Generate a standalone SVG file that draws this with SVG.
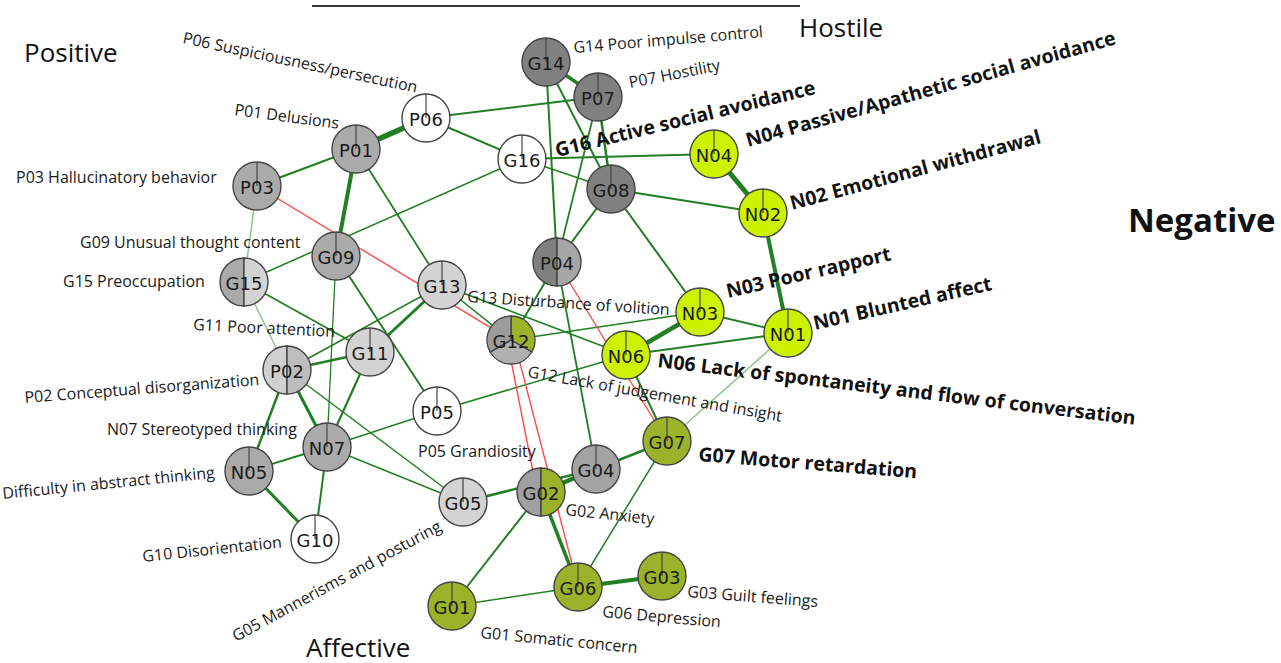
<svg xmlns="http://www.w3.org/2000/svg" width="1281" height="663" viewBox="0 0 1281 663">
<style>
.e{stroke:#237f23;fill:none;stroke-linecap:round}
.lt{stroke:#8fc98f}
.r{stroke:#ff4a4a;stroke-width:1.4}
.node circle,.node path{stroke:#444;stroke-width:1.4}
.tick{stroke:#444;stroke-width:1.2}
.nt{font-family:"DejaVu Sans",sans-serif;font-size:18px;fill:#1a1a1a;text-anchor:middle;dominant-baseline:central}
.lb{font-family:"Open Sans",sans-serif;font-size:16px;fill:#1a1a1a}
.bl{font-family:"Open Sans",sans-serif;font-size:19.5px;font-weight:bold;fill:#111}
.gr{font-family:"Open Sans",sans-serif;font-size:26px;fill:#111}
.dk{fill:#808080}.md{fill:#aaaaaa}.lg{fill:#d3d3d3}.wh{fill:#ffffff}.yg{fill:#ccf200}.ol{fill:#9bb22b}
</style>
<line x1="312" y1="6" x2="800" y2="6" stroke="#333" stroke-width="2"/>
<g id="connectors">
<line class="e" x1="356" y1="149" x2="426" y2="118" stroke-width="5.5"/>
<line class="e" x1="356" y1="149" x2="257" y2="186" stroke-width="2"/>
<line class="e" x1="356" y1="149" x2="336" y2="256" stroke-width="4"/>
<line class="e" x1="356" y1="149" x2="442" y2="285" stroke-width="1.8"/>
<line class="e lt" x1="257" y1="186" x2="244" y2="282" stroke-width="1.6"/>
<line class="e" x1="426" y1="118" x2="598" y2="97" stroke-width="2"/>
<line class="e" x1="426" y1="118" x2="522" y2="159" stroke-width="2"/>
<line class="e" x1="522" y1="159" x2="714" y2="154" stroke-width="2"/>
<line class="e" x1="522" y1="159" x2="611" y2="189" stroke-width="1.5"/>
<line class="e" x1="522" y1="159" x2="244" y2="282" stroke-width="1.5"/>
<line class="e" x1="546" y1="62" x2="598" y2="97" stroke-width="3.5"/>
<line class="e" x1="546" y1="62" x2="557" y2="262" stroke-width="2"/>
<line class="e" x1="546" y1="62" x2="611" y2="189" stroke-width="2"/>
<line class="e" x1="598" y1="97" x2="611" y2="189" stroke-width="2.5"/>
<line class="e" x1="598" y1="97" x2="557" y2="262" stroke-width="1.8"/>
<line class="e" x1="611" y1="189" x2="763" y2="213" stroke-width="1.8"/>
<line class="e" x1="611" y1="189" x2="557" y2="262" stroke-width="2"/>
<line class="e" x1="611" y1="189" x2="700" y2="312" stroke-width="2"/>
<line class="e" x1="714" y1="154" x2="763" y2="213" stroke-width="5"/>
<line class="e" x1="763" y1="213" x2="788" y2="333" stroke-width="4"/>
<line class="e" x1="700" y1="312" x2="626" y2="355" stroke-width="4.5"/>
<line class="e" x1="700" y1="312" x2="788" y2="333" stroke-width="2"/>
<line class="e" x1="626" y1="355" x2="788" y2="333" stroke-width="2"/>
<line class="e lt" x1="788" y1="333" x2="667" y2="441" stroke-width="1.6"/>
<line class="e" x1="700" y1="312" x2="511" y2="340" stroke-width="1.5"/>
<line class="e" x1="442" y1="285" x2="626" y2="355" stroke-width="1.8"/>
<line class="e" x1="626" y1="355" x2="667" y2="441" stroke-width="2"/>
<line class="e" x1="557" y1="262" x2="511" y2="340" stroke-width="2"/>
<line class="e" x1="557" y1="262" x2="596" y2="469" stroke-width="1.8"/>
<line class="e" x1="442" y1="285" x2="511" y2="340" stroke-width="1.5"/>
<line class="e" x1="541" y1="492" x2="578" y2="587" stroke-width="3.5"/>
<line class="e" x1="541" y1="492" x2="596" y2="469" stroke-width="4.5"/>
<line class="e" x1="463" y1="502" x2="596" y2="469" stroke-width="2.5"/>
<line class="e" x1="596" y1="469" x2="667" y2="441" stroke-width="2.5"/>
<line class="e" x1="541" y1="492" x2="452" y2="606" stroke-width="2"/>
<line class="e" x1="578" y1="587" x2="452" y2="606" stroke-width="1.5"/>
<line class="e" x1="578" y1="587" x2="662" y2="576" stroke-width="4"/>
<line class="e" x1="578" y1="587" x2="667" y2="441" stroke-width="1.5"/>
<line class="e" x1="287" y1="370" x2="463" y2="502" stroke-width="1.5"/>
<line class="e" x1="327" y1="447" x2="463" y2="502" stroke-width="1.5"/>
<line class="e" x1="336" y1="256" x2="437" y2="411" stroke-width="2"/>
<line class="e" x1="437" y1="411" x2="327" y2="447" stroke-width="1.5"/>
<line class="e" x1="437" y1="411" x2="626" y2="355" stroke="#7a6a22" stroke-width="1.5"/>
<line class="e" x1="442" y1="285" x2="370" y2="352" stroke-width="3"/>
<line class="e" x1="442" y1="285" x2="287" y2="370" stroke-width="1.5"/>
<line class="e" x1="370" y1="352" x2="287" y2="370" stroke-width="2.5"/>
<line class="e" x1="244" y1="282" x2="370" y2="352" stroke-width="1.8"/>
<line class="e lt" x1="244" y1="282" x2="287" y2="370" stroke-width="1.5"/>
<line class="e" x1="336" y1="256" x2="327" y2="447" stroke-width="1.3" stroke="#4a9a4a"/>
<line class="e" x1="287" y1="370" x2="327" y2="447" stroke-width="3"/>
<line class="e" x1="287" y1="370" x2="249" y2="471" stroke-width="2.5"/>
<line class="e" x1="327" y1="447" x2="249" y2="471" stroke-width="2"/>
<line class="e" x1="327" y1="447" x2="315" y2="539" stroke-width="2"/>
<line class="e" x1="249" y1="471" x2="315" y2="539" stroke-width="3"/>
<line class="e" x1="370" y1="352" x2="327" y2="447" stroke-width="2.2"/>
<line class="r" x1="257" y1="186" x2="511" y2="340"/>
<line class="r" x1="557" y1="262" x2="667" y2="441"/>
<line class="r" x1="507" y1="340" x2="537" y2="492"/>
<line class="r" x1="514" y1="340" x2="578" y2="587"/>
</g>
<g id="P01" class="node"><circle cx="356" cy="149" r="24" class="md"/><line class="tick" x1="356" y1="125" x2="356" y2="149"/><text class="nt" x="356" y="150">P01</text></g>
<g id="P06" class="node"><circle cx="426" cy="118" r="24" class="wh"/><line class="tick" x1="426" y1="94" x2="426" y2="118"/><text class="nt" x="426" y="119">P06</text></g>
<g id="P03" class="node"><circle cx="257" cy="186" r="24" class="md"/><line class="tick" x1="257" y1="162" x2="257" y2="186"/><text class="nt" x="257" y="187">P03</text></g>
<g id="G14" class="node"><circle cx="546" cy="62" r="24" class="dk"/><line class="tick" x1="546" y1="38" x2="546" y2="62"/><text class="nt" x="546" y="63">G14</text></g>
<g id="P07" class="node"><circle cx="598" cy="97" r="24" class="dk"/><line class="tick" x1="598" y1="73" x2="598" y2="97"/><text class="nt" x="598" y="98">P07</text></g>
<g id="G16" class="node"><circle cx="522" cy="159" r="24" class="wh"/><line class="tick" x1="522" y1="135" x2="522" y2="159"/><text class="nt" x="522" y="160">G16</text></g>
<g id="G08" class="node"><circle cx="611" cy="189" r="24" class="dk"/><line class="tick" x1="611" y1="165" x2="611" y2="189"/><text class="nt" x="611" y="190">G08</text></g>
<g id="N04" class="node"><circle cx="714" cy="154" r="24" class="yg"/><line class="tick" x1="714" y1="130" x2="714" y2="154"/><text class="nt" x="714" y="155">N04</text></g>
<g id="N02" class="node"><circle cx="763" cy="213" r="24" class="yg"/><line class="tick" x1="763" y1="189" x2="763" y2="213"/><text class="nt" x="763" y="214">N02</text></g>
<g id="G09" class="node"><circle cx="336" cy="256" r="24" class="md"/><line class="tick" x1="336" y1="232" x2="336" y2="256"/><text class="nt" x="336" y="257">G09</text></g>
<g id="P04" class="node"><path d="M557,238 A24,24 0 0 0 557,286 Z" class="dk"/><path d="M557,238 A24,24 0 0 1 557,286 Z" fill="#a6a6a6"/><text class="nt" x="557" y="263">P04</text></g>
<g id="G15" class="node"><path d="M244,258 A24,24 0 0 0 244,306 Z" class="md"/><path d="M244,258 A24,24 0 0 1 244,306 Z" class="lg"/><text class="nt" x="244" y="283">G15</text></g>
<g id="G13" class="node"><circle cx="442" cy="285" r="24" class="lg"/><line class="tick" x1="442" y1="261" x2="442" y2="285"/><text class="nt" x="442" y="286">G13</text></g>
<g id="N03" class="node"><circle cx="700" cy="312" r="24" class="yg"/><line class="tick" x1="700" y1="288" x2="700" y2="312"/><text class="nt" x="700" y="313">N03</text></g>
<g id="N01" class="node"><circle cx="788" cy="333" r="24" class="yg"/><line class="tick" x1="788" y1="309" x2="788" y2="333"/><text class="nt" x="788" y="334">N01</text></g>
<g id="G12" class="node"><path d="M511,340 L511,316 A24,24 0 0 1 531.8,352 Z" class="ol"/><path d="M511,340 L531.8,352 A24,24 0 0 1 490.2,352 Z" fill="#b0b0b0"/><path d="M511,340 L490.2,352 A24,24 0 0 1 511,316 Z" fill="#9c9c9c"/><text class="nt" x="511" y="341">G12</text></g>
<g id="N06" class="node"><circle cx="626" cy="355" r="24" class="yg"/><line class="tick" x1="626" y1="331" x2="626" y2="355"/><text class="nt" x="626" y="356">N06</text></g>
<g id="G11" class="node"><circle cx="370" cy="352" r="24" class="lg"/><line class="tick" x1="370" y1="328" x2="370" y2="352"/><text class="nt" x="370" y="353">G11</text></g>
<g id="P02" class="node"><path d="M287,346 A24,24 0 0 0 287,394 Z" fill="#d0d0d0"/><path d="M287,346 A24,24 0 0 1 287,394 Z" fill="#bdbdbd"/><text class="nt" x="287" y="371">P02</text></g>
<g id="P05" class="node"><circle cx="437" cy="411" r="24" class="wh"/><line class="tick" x1="437" y1="387" x2="437" y2="411"/><text class="nt" x="437" y="412">P05</text></g>
<g id="N07" class="node"><circle cx="327" cy="447" r="24" class="md"/><line class="tick" x1="327" y1="423" x2="327" y2="447"/><text class="nt" x="327" y="448">N07</text></g>
<g id="G07" class="node"><circle cx="667" cy="441" r="24" class="ol"/><line class="tick" x1="667" y1="417" x2="667" y2="441"/><text class="nt" x="667" y="442">G07</text></g>
<g id="N05" class="node"><circle cx="249" cy="471" r="24" class="md"/><line class="tick" x1="249" y1="447" x2="249" y2="471"/><text class="nt" x="249" y="472">N05</text></g>
<g id="G04" class="node"><circle cx="596" cy="469" r="24" fill="#a3a3a3"/><line class="tick" x1="596" y1="445" x2="596" y2="469"/><text class="nt" x="596" y="470">G04</text></g>
<g id="G05" class="node"><circle cx="463" cy="502" r="24" class="lg"/><line class="tick" x1="463" y1="478" x2="463" y2="502"/><text class="nt" x="463" y="503">G05</text></g>
<g id="G02" class="node"><path d="M541,468 A24,24 0 0 0 541,516 Z" fill="#a0a0a0"/><path d="M541,468 A24,24 0 0 1 541,516 Z" class="ol"/><text class="nt" x="541" y="493">G02</text></g>
<g id="G10" class="node"><circle cx="315" cy="539" r="24" class="wh"/><line class="tick" x1="315" y1="515" x2="315" y2="539"/><text class="nt" x="315" y="540">G10</text></g>
<g id="G06" class="node"><circle cx="578" cy="587" r="24" class="ol"/><line class="tick" x1="578" y1="563" x2="578" y2="587"/><text class="nt" x="578" y="588">G06</text></g>
<g id="G03" class="node"><circle cx="662" cy="576" r="24" class="ol"/><line class="tick" x1="662" y1="552" x2="662" y2="576"/><text class="nt" x="662" y="577">G03</text></g>
<g id="G01" class="node"><circle cx="452" cy="606" r="24" class="ol"/><line class="tick" x1="452" y1="582" x2="452" y2="606"/><text class="nt" x="452" y="607">G01</text></g>
<g id="labels">
<text class="lb" transform="translate(182,43) rotate(12)">P06 Suspiciousness/persecution</text>
<text class="lb" transform="translate(234,115) rotate(7.5)">P01 Delusions</text>
<text class="lb" x="16" y="183">P03 Hallucinatory behavior</text>
<text class="lb" transform="translate(574,53) rotate(-4.8)">G14 Poor impulse control</text>
<text class="lb" transform="translate(630,88) rotate(-11)">P07 Hostility</text>
<text class="bl" transform="translate(557,157) rotate(-13.7)">G16 Active social avoidance</text>
<text class="bl" transform="translate(748,147) rotate(-15.6)">N04 Passive/Apathetic social avoidance</text>
<text class="bl" transform="translate(792,210) rotate(-15)">N02 Emotional withdrawal</text>
<text class="bl" transform="translate(728,298) rotate(-13)">N03 Poor rapport</text>
<text class="bl" transform="translate(815,330) rotate(-12.7)">N01 Blunted affect</text>
<text class="bl" transform="translate(657,367) rotate(6.9)">N06 Lack of spontaneity and flow of conversation</text>
<text class="bl" transform="translate(698,461) rotate(4.5)">G07 Motor retardation</text>
<text class="lb" transform="translate(467,302) rotate(3.7)">G13 Disturbance of volition</text>
<text class="lb" transform="translate(527,377) rotate(10)">G12 Lack of judgement and insight</text>
<text class="lb" x="80" y="248">G09 Unusual thought content</text>
<text class="lb" x="63" y="287">G15 Preoccupation</text>
<text class="lb" transform="translate(193,330) rotate(2.8)">G11 Poor attention</text>
<text class="lb" transform="translate(25,403) rotate(-4.4)">P02 Conceptual disorganization</text>
<text class="lb" x="107" y="435">N07 Stereotyped thinking</text>
<text class="lb" transform="translate(3,499) rotate(-5.7)">Difficulty in abstract thinking</text>
<text class="lb" transform="translate(143,562) rotate(-6)">G10 Disorientation</text>
<text class="lb" transform="translate(236,642) rotate(-28.5)">G05 Mannerisms and posturing</text>
<text class="lb" x="418" y="457">P05 Grandiosity</text>
<text class="lb" transform="translate(565,515) rotate(6)">G02 Anxiety</text>
<text class="lb" transform="translate(687,597) rotate(4.4)">G03 Guilt feelings</text>
<text class="lb" transform="translate(602,617) rotate(5)">G06 Depression</text>
<text class="lb" transform="translate(480,638) rotate(5.5)">G01 Somatic concern</text>
<text class="gr" x="24" y="62">Positive</text>
<text class="gr" x="799" y="37">Hostile</text>
<text class="gr" x="1128" y="232" style="font-weight:bold;font-size:33px">Negative</text>
<text class="gr" x="306" y="657">Affective</text>
</g>
</svg>
